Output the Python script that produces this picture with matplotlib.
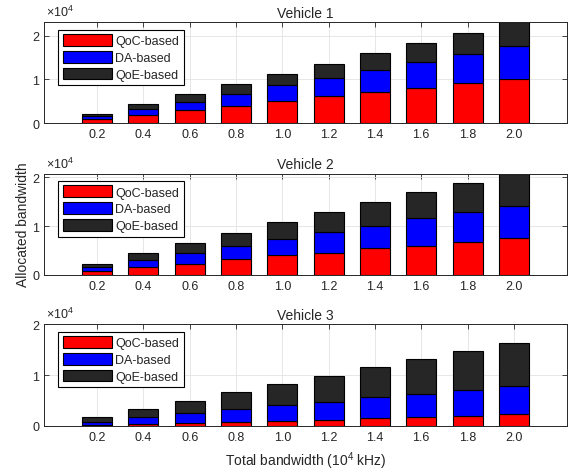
import numpy as np
import matplotlib
matplotlib.use("Agg")
import matplotlib.pyplot as plt
from matplotlib.ticker import FuncFormatter

plt.rcParams['font.family'] = ['Liberation Sans', 'DejaVu Sans']
plt.rcParams['mathtext.fontset'] = 'custom'
plt.rcParams['mathtext.rm'] = 'Liberation Sans'

# x axis: total bandwidth (10^4 kHz)
bandwidth_labels = ['0.2', '0.4', '0.6', '0.8', '1.0', '1.2', '1.4', '1.6', '1.8', '2.0']

# allocated bandwidth of each scheme (stacked segments)
v1_qoc = [830, 1800, 2900, 4000, 5000, 6100, 7000, 8100, 9200, 10150]
v1_da = [670, 1400, 2000, 2700, 3600, 4300, 5200, 5900, 6600, 7500]
v1_qoe = [500, 1100, 1700, 2200, 2500, 3100, 3700, 4300, 4800, 5350]

v2_qoc = [830, 1660, 2300, 3200, 4000, 4550, 5450, 6000, 6800, 7500]
v2_da = [670, 1340, 2100, 2700, 3400, 4210, 4650, 5600, 6100, 6700]
v2_qoe = [800, 1400, 2200, 2700, 3400, 4040, 4800, 5400, 6000, 6600]

v3_qoc = [200, 330, 530, 800, 1000, 1260, 1530, 1700, 2000, 2300]
v3_da = [660, 1330, 1970, 2500, 3050, 3540, 4070, 4600, 5150, 5550]
v3_qoe = [840, 1740, 2500, 3300, 4150, 5000, 5900, 6800, 7550, 8450]

titles = ['Vehicle 1', 'Vehicle 2', 'Vehicle 3']
y_tops = [2.3e4, 2.08e4, 2.0e4]
series_names = ['QoC-based', 'DA-based', 'QoE-based']
colors = ['#ff0000', '#0000ff', '#262626']
text_color = '#262626'

fig = plt.figure(figsize=(5.75, 4.77), dpi=100)
positions = [[0.077, 0.740, 0.9085, 0.211],
             [0.077, 0.422, 0.9085, 0.212],
             [0.077, 0.105, 0.9085, 0.213]]


def draw_panel(ax, qoc, da, qoe, title, y_top):
    x = np.arange(len(bandwidth_labels))
    bottom = np.zeros(len(x))
    for vals, c, name in zip([qoc, da, qoe], colors, series_names):
        ax.bar(x, vals, width=0.65, bottom=bottom, color=c,
               edgecolor='black', linewidth=0.8, label=name, zorder=2)
        bottom = bottom + np.array(vals)
    ax.set_xlim(-1.14, len(x) - 1 + 1.14)
    ax.set_ylim(0, y_top)
    ax.set_xticks(x)
    ax.set_xticklabels(bandwidth_labels)
    ax.set_yticks([0, 1e4, 2e4])
    ax.yaxis.set_major_formatter(FuncFormatter(lambda v, p: '%g' % (v / 1e4)))
    ax.tick_params(direction='in', top=True, right=True, length=3.5, width=0.6,
                   labelsize=9, colors=text_color, labelcolor=text_color)
    ax.grid(True, color='#e3e3e3', linewidth=0.6)
    ax.set_axisbelow(True)
    for s in ax.spines.values():
        s.set_color(text_color)
        s.set_linewidth(0.7)
    ax.set_title(title, fontsize=10, color=text_color, pad=4)
    # exponent label like MATLAB
    ax.text(0.004, 1.03, r'$\times\mathregular{10^4}$', transform=ax.transAxes,
            fontsize=9, color=text_color, ha='left', va='bottom')
    leg = ax.legend(loc='upper left', bbox_to_anchor=(0.027, 0.926), borderaxespad=0,
                    fontsize=9, handlelength=3.9, handleheight=1.05,
                    handletextpad=0.3, labelspacing=0.3, borderpad=0.35,
                    fancybox=False, framealpha=1, edgecolor='black')
    leg.get_frame().set_linewidth(0.8)
    for t in leg.get_texts():
        t.set_color(text_color)


data = [(v1_qoc, v1_da, v1_qoe), (v2_qoc, v2_da, v2_qoe), (v3_qoc, v3_da, v3_qoe)]
axes = []
for i in range(3):
    ax = fig.add_axes(positions[i])
    draw_panel(ax, data[i][0], data[i][1], data[i][2], titles[i], y_tops[i])
    axes.append(ax)

axes[1].set_ylabel('Allocated bandwidth', fontsize=10, color=text_color, labelpad=2)
axes[2].set_xlabel('Total bandwidth ($\\mathregular{10^4}$ kHz)', fontsize=10,
                   color=text_color, labelpad=5)

fig.savefig('out.png', dpi=100)
